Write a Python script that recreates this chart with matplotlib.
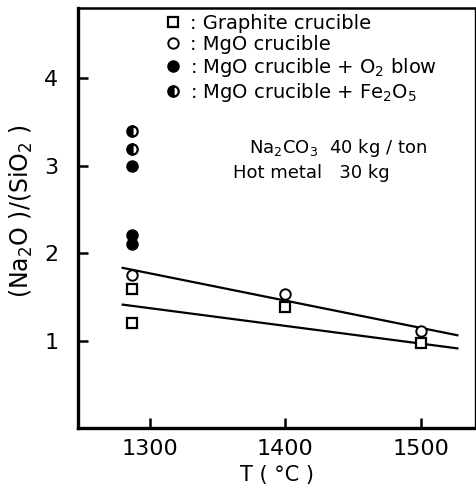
import matplotlib
matplotlib.use("Agg")
import matplotlib.pyplot as plt
from matplotlib.lines import Line2D

plt.rcParams['font.family'] = ['DejaVu Sans']
plt.rcParams['mathtext.default'] = 'regular'

# Measured basicity ratios vs. temperature
graphite_T = [1287, 1287, 1400, 1500]
graphite_r = [1.59, 1.20, 1.38, 0.97]
mgo_T = [1287, 1400, 1500]
mgo_r = [1.75, 1.53, 1.11]
o2_T = [1287, 1287, 1287]
o2_r = [3.00, 2.20, 2.10]
fe_T = [1287, 1287]
fe_r = [3.40, 3.19]

# Fitted trend lines
mgo_fit_T = [1280, 1527]
mgo_fit_r = [1.83, 1.06]
graphite_fit_T = [1280, 1527]
graphite_fit_r = [1.41, 0.91]

x_ticks = [1300, 1400, 1500]
y_ticks = [1, 2, 3, 4]

fig = plt.figure(figsize=(4.76, 4.90), dpi=100)
ax = fig.add_axes([78 / 476, 62 / 490, 397 / 476, 420 / 490])

ax.plot(mgo_fit_T, mgo_fit_r, color='black', lw=1.6, zorder=2)
ax.plot(graphite_fit_T, graphite_fit_r, color='black', lw=1.6, zorder=2)

ms_sq = 6.5
ms_c = 7.5
ax.plot(graphite_T, graphite_r, 's', ms=ms_sq, mfc='white', mec='black', mew=1.6, ls='none', zorder=3)
ax.plot(mgo_T, mgo_r, 'o', ms=ms_c, mfc='white', mec='black', mew=1.4, ls='none', zorder=3)
ax.plot(o2_T, o2_r, 'o', ms=ms_c + 0.5, mfc='black', mec='black', ls='none', zorder=3)
ax.plot(fe_T, fe_r, 'o', ms=ms_c, fillstyle='left', mfc='black', mfcalt='white',
        mec='black', mew=1.6, ls='none', zorder=3)

ax.set_xlim(1247, 1540)
ax.set_ylim(0, 4.8)
ax.set_xticks(x_ticks)
ax.set_yticks(y_ticks)
ax.tick_params(direction='in', length=7, width=1.8, labelsize=16)
ax.tick_params(axis='y', pad=14)
ax.tick_params(axis='x', pad=8)

for side in ['left', 'bottom']:
    ax.spines[side].set_linewidth(2.4)
ax.spines['top'].set_linewidth(1.8)
ax.spines['right'].set_linewidth(1.0)

ax.set_xlabel('T ( °C )', fontsize=15, labelpad=4)
ax.set_ylabel('(Na$_2$O )/(SiO$_2$ )', fontsize=17)
ax.yaxis.set_label_coords(-0.108, 0.515)

handles = [
    Line2D([], [], marker='s', ms=ms_sq, mfc='white', mec='black', mew=1.6, ls='none'),
    Line2D([], [], marker='o', ms=ms_c, mfc='white', mec='black', mew=1.4, ls='none'),
    Line2D([], [], marker='o', ms=ms_c + 0.5, mfc='black', mec='black', ls='none'),
    Line2D([], [], marker='o', ms=ms_c, fillstyle='left', mfc='black', mfcalt='white',
           mec='black', mew=1.6, ls='none'),
]
labels = [': Graphite crucible', ': MgO crucible', ': MgO crucible + O$_2$ blow',
          ': MgO crucible + Fe$_2$O$_5$']
ax.legend(handles, labels, loc='upper left', bbox_to_anchor=(0.2, 1.005), frameon=False,
          fontsize=14, handlelength=0.8, handletextpad=0.5, labelspacing=0.1,
          borderaxespad=0)

ax.text(0.43, 0.655, 'Na$_2$CO$_3$  40 kg / ton', transform=ax.transAxes, fontsize=13)
ax.text(0.39, 0.595, 'Hot metal   30 kg', transform=ax.transAxes, fontsize=13)

fig.savefig('out.png', dpi=100)
